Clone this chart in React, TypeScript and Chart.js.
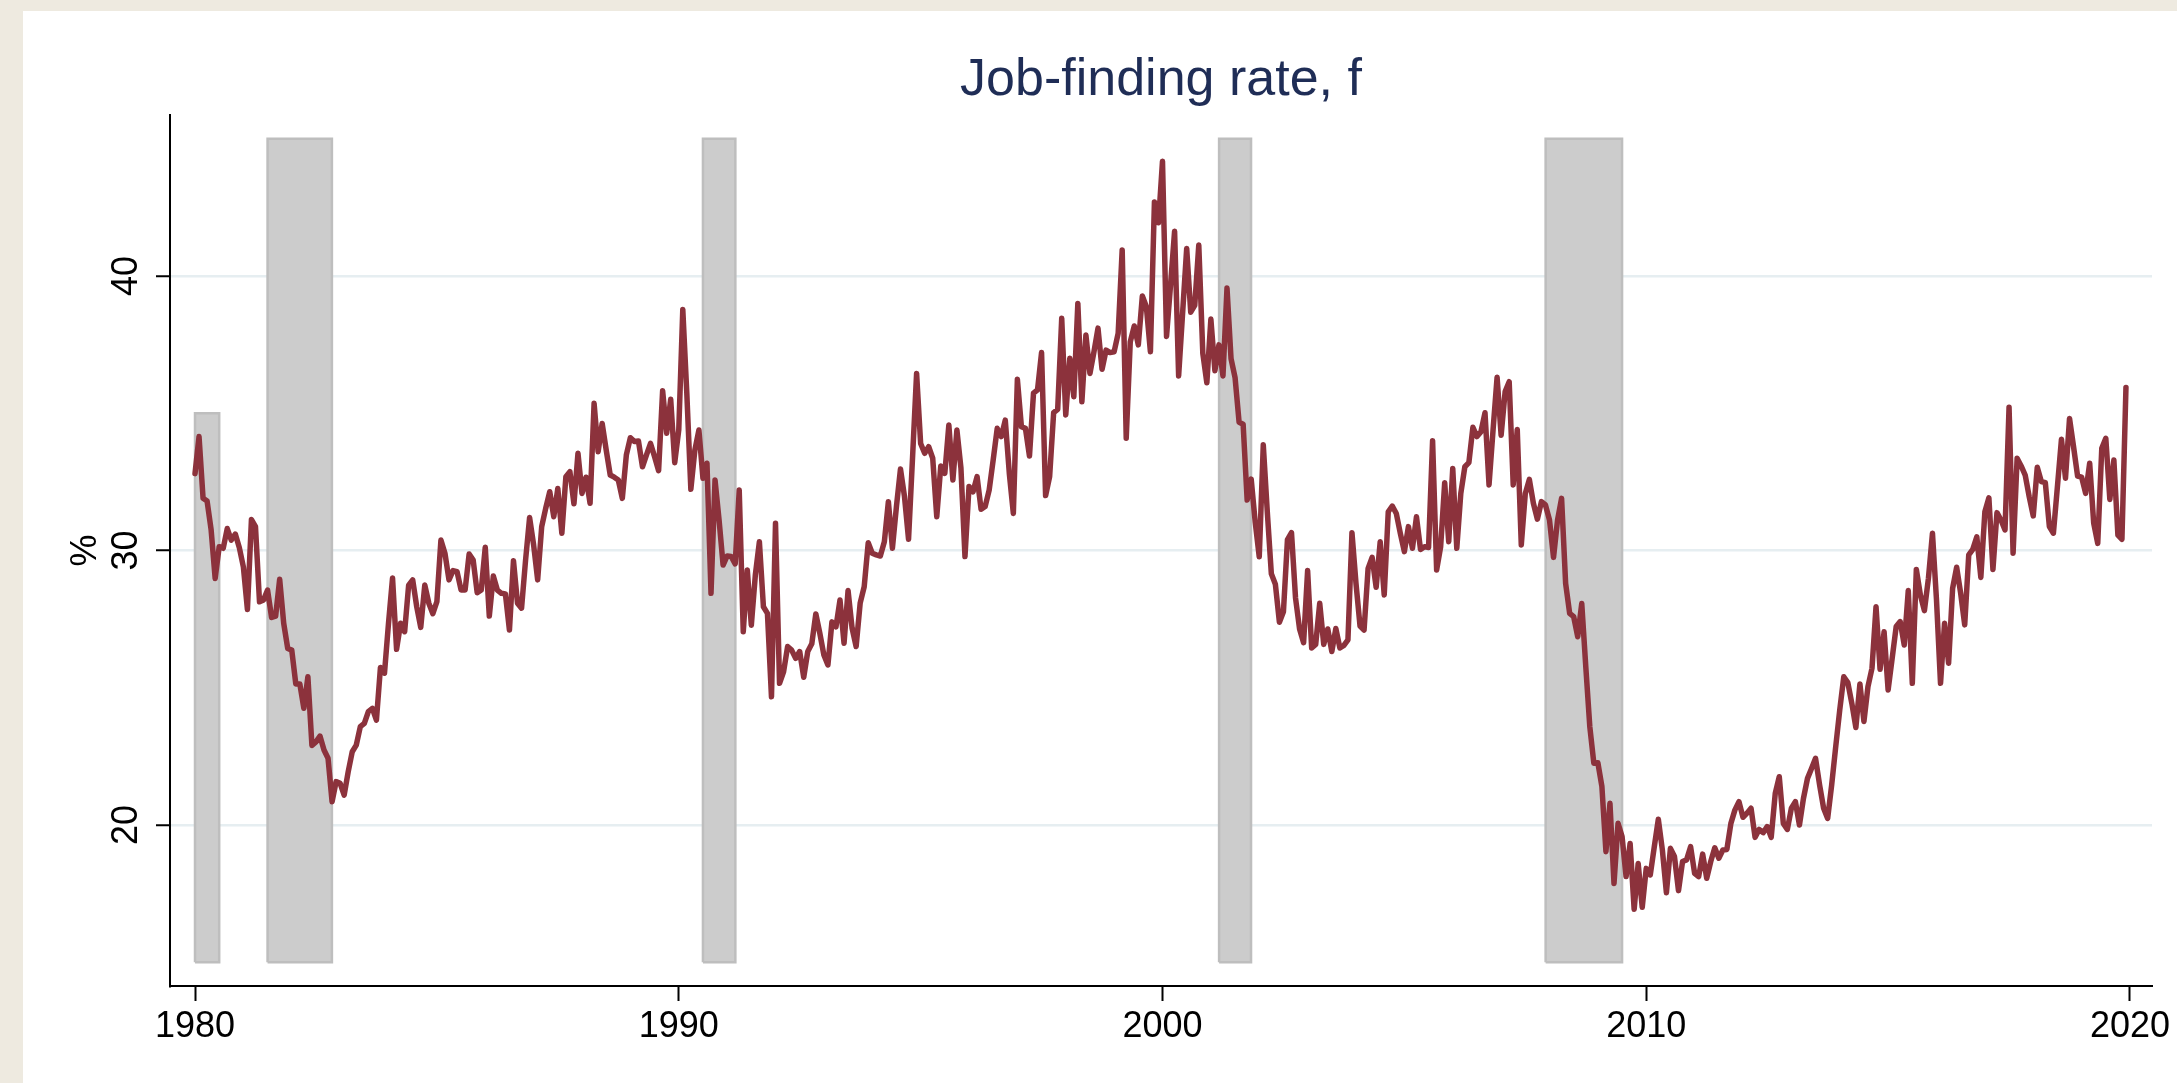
import React, { useEffect, useRef } from "react";
import { Chart, registerables } from "chart.js";

Chart.register(...registerables);

// Monthly job-finding rate (%), Jan of each decade start onward
const f1980s = [
  32.8, 34.15, 31.9, 31.8, 30.75, 28.98, 30.14, 30.08, 30.8, 30.38, 30.6, 30.1,
  29.4, 27.85, 31.13, 30.87, 28.13, 28.2, 28.56, 27.56, 27.61, 28.95, 27.35, 26.43,
  26.37, 25.14, 25.14, 24.25, 25.4, 22.9, 23.03, 23.24, 22.73, 22.43, 20.85, 21.58,
  21.52, 21.09, 21.94, 22.67, 22.91, 23.58, 23.7, 24.13, 24.25, 23.82, 25.74, 25.53,
  27.35, 29.0, 26.4, 27.35, 27.04, 28.74, 28.93, 27.95, 27.2, 28.74, 28.08, 27.7,
  28.14, 30.38, 29.9, 28.93, 29.27, 29.23, 28.56, 28.56, 29.87, 29.65, 28.46, 28.56,
  30.12, 27.61, 29.07, 28.56, 28.44, 28.42, 27.1, 29.63, 28.08, 27.9, 29.65, 31.2,
  30.2, 28.93, 30.87, 31.54, 32.14, 31.23, 32.26, 30.63, 32.69, 32.87, 31.7, 33.54,
  32.08, 32.67, 31.72, 35.36, 33.6, 34.63, 33.66, 32.75, 32.67, 32.57, 31.9, 33.48,
  34.11, 33.97, 33.99, 33.05, 33.48, 33.9, 33.42, 32.91, 35.82, 34.27, 35.51, 33.2,
];
const f1990s = [
  34.39, 38.78, 35.72, 32.23, 33.66, 34.39, 32.63, 33.18, 28.44, 32.57, 31.11, 29.47,
  29.8, 29.78, 29.51, 32.2, 27.04, 29.29, 27.28, 29.11, 30.32, 27.95, 27.71, 24.67,
  30.99, 25.16, 25.58, 26.5, 26.37, 26.07, 26.32, 25.38, 26.32, 26.6, 27.69, 26.98,
  26.19, 25.83, 27.4, 27.22, 28.2, 26.62, 28.54, 27.17, 26.5, 28.08, 28.68, 30.28,
  29.9, 29.84, 29.8, 30.32, 31.78, 30.08, 31.6, 32.97, 31.96, 30.41, 33.4, 36.45,
  33.9, 33.54, 33.78, 33.36, 31.23, 33.08, 32.81, 34.57, 32.57, 34.39, 33.0, 29.78,
  32.33, 32.14, 32.69, 31.5, 31.6, 32.2, 33.3, 34.45, 34.15, 34.75, 32.81, 31.35,
  36.24, 34.51, 34.45, 33.44, 35.73, 35.85, 37.21, 32.0, 32.69, 35.02, 35.14, 38.46,
  34.94, 37.0, 35.6, 39.0, 35.42, 37.85, 36.45, 37.24, 38.1, 36.6, 37.3, 37.21,
  37.24, 37.91, 40.95, 34.09, 37.6, 38.18, 37.49, 39.27, 38.88, 37.24, 42.7, 41.94,
];
const f2000s = [
  44.18, 37.8, 39.68, 41.63, 36.36, 38.68, 41.0, 38.68, 38.93, 41.13, 37.18, 36.11,
  38.43, 36.55, 37.49, 36.36, 39.56, 36.99, 36.3, 34.67, 34.6, 31.84, 32.6, 31.03,
  29.77, 33.85, 31.4, 29.15, 28.77, 27.39, 27.77, 30.4, 30.65, 28.27, 27.14, 26.64,
  29.27, 26.45, 26.58, 28.08, 26.58, 27.14, 26.32, 27.16, 26.45, 26.54, 26.74, 30.65,
  28.8, 27.25, 27.1, 29.35, 29.75, 28.66, 30.32, 28.38, 31.41, 31.62, 31.35, 30.62,
  29.96, 30.87, 30.08, 31.23, 30.04, 30.14, 30.11, 34.0, 29.29, 30.14, 32.47, 30.32,
  32.99, 30.08, 32.08, 33.05, 33.2, 34.49, 34.15, 34.33, 35.02, 32.39, 34.39, 36.31,
  34.2, 35.79, 36.15, 32.39, 34.41, 30.2, 32.08, 32.59, 31.72, 31.14, 31.78, 31.66,
  31.11, 29.75, 31.11, 31.9, 28.8, 27.71, 27.59, 26.86, 28.07, 25.77, 23.58, 22.25,
  22.27, 21.4, 19.03, 20.79, 17.87, 20.06, 19.58, 18.12, 19.33, 16.93, 18.6, 17.0,
];
const f2010s = [
  18.42, 18.18, 19.21, 20.21, 19.09, 17.53, 19.15, 18.85, 17.61, 18.67, 18.73, 19.21,
  18.24, 18.12, 18.94, 18.06, 18.67, 19.17, 18.79, 19.09, 19.11, 20.06, 20.55, 20.85,
  20.28, 20.43, 20.61, 19.55, 19.84, 19.72, 19.94, 19.55, 21.15, 21.76, 20.06, 19.84,
  20.61, 20.85, 20.0, 20.97, 21.7, 22.06, 22.43, 21.46, 20.61, 20.24, 21.46, 22.85,
  24.19, 25.4, 25.19, 24.43, 23.55, 25.14, 23.77, 25.04, 25.71, 27.95, 25.67, 27.04,
  24.92, 26.07, 27.23, 27.41, 26.56, 28.54, 25.16, 29.31, 28.38, 27.81, 28.99, 30.63,
  28.2, 25.16, 27.35, 25.89, 28.62, 29.39, 28.44, 27.29, 29.84, 30.04, 30.5, 29.02,
  31.41, 31.92, 29.31, 31.38, 31.11, 30.75, 35.22, 29.9, 33.36, 33.08, 32.75, 31.96,
  31.26, 33.03, 32.51, 32.47, 30.87, 30.63, 32.33, 34.05, 32.63, 34.81, 33.78, 32.71,
  32.67, 32.08, 33.18, 30.99, 30.26, 33.72, 34.09, 31.86, 33.3, 30.56, 30.41, 35.94,
];
const decadeStarts = [1980, 1990, 2000, 2010];

// NBER recessions (decimal years) and shading heights
const recessionStart = [1980.0, 1981.5, 1990.5, 2001.17, 2007.92];
const recessionEnd = [1980.5, 1982.83, 1991.17, 2001.83, 2009.5];
const recessionTop = [35, 45, 45, 45, 45];
const recessionBottom = 15;

const xTicks = [1980, 1990, 2000, 2010, 2020];
const yTicks = [20, 30, 40];
const titleText = "Job-finding rate, f";
const yTitleText = "%";

const W = 2177;
const H = 1083;
const FONT = "'Liberation Sans', Arial, Helvetica, sans-serif";

const backgroundPlugin = {
  id: "stataBackground",
  beforeDraw(chart: any) {
    const ctx = chart.ctx;
    ctx.save();
    ctx.fillStyle = "#EEEAE0";
    ctx.fillRect(0, 0, chart.width, chart.height);
    ctx.fillStyle = "#FFFFFF";
    ctx.fillRect(23, 11, chart.width - 23, chart.height - 11);
    ctx.restore();
  },
};

export default function App() {
  const canvasRef = useRef<HTMLCanvasElement | null>(null);

  useEffect(() => {
    const canvas = canvasRef.current;
    if (!canvas) return;

    const series = [f1980s, f1990s, f2000s, f2010s];
    const linePoints: { x: number; y: number }[] = [];
    series.forEach((arr, d) => {
      arr.forEach((v, i) => {
        linePoints.push({ x: decadeStarts[d] + i / 12, y: v });
      });
    });

    const recessionSets = recessionStart.map((s, i) => ({
      type: "line" as const,
      label: "recession" + i,
      data: [
        { x: s, y: recessionBottom },
        { x: s, y: recessionTop[i] },
        { x: recessionEnd[i], y: recessionTop[i] },
        { x: recessionEnd[i], y: recessionBottom },
        { x: s, y: recessionBottom },
      ],
      borderColor: "#BEBEBE",
      borderWidth: 2.5,
      backgroundColor: "#CCCCCC",
      fill: "shape" as any,
      pointRadius: 0,
      tension: 0,
      order: 2,
    }));

    const chart = new Chart(canvas, {
      type: "line",
      data: {
        datasets: [
          {
            label: "f",
            data: linePoints,
            borderColor: "#8C323C",
            borderWidth: 5.5,
            borderJoinStyle: "round",
            borderCapStyle: "round",
            pointRadius: 0,
            tension: 0,
            fill: false,
            order: 0,
          } as any,
          ...recessionSets,
        ],
      },
      options: {
        responsive: false,
        animation: false,
        devicePixelRatio: 1,
        layout: { padding: { left: 0, right: 25, top: 0, bottom: 0 } },
        plugins: {
          legend: { display: false },
          tooltip: { enabled: false },
          title: {
            display: true,
            text: titleText,
            color: "#1F2D56",
            font: { family: FONT, size: 52, weight: "normal", lineHeight: 1.2 },
            padding: { top: 49, bottom: 3.6 },
            fullSize: false,
          },
        },
        scales: {
          x: {
            type: "linear",
            min: 1979.483,
            max: 2020.455,
            afterBuildTicks: (s: any) => {
              s.ticks = xTicks.map((v) => ({ value: v }));
            },
            afterFit: (s: any) => {
              s.height = 97;
            },
            grid: {
              drawOnChartArea: false,
              drawTicks: true,
              tickLength: 15,
              tickColor: "#000",
              tickWidth: 2,
            },
            border: { display: true, color: "#000", width: 2 },
            ticks: {
              color: "#000",
              font: { family: FONT, size: 36 },
              padding: 4,
              minRotation: 0,
              maxRotation: 0,
              autoSkip: false,
              callback: (v: any) => String(v),
            },
          },
          y: {
            type: "linear",
            min: 14.135,
            max: 45.865,
            afterBuildTicks: (s: any) => {
              s.ticks = yTicks.map((v) => ({ value: v }));
            },
            afterFit: (s: any) => {
              s.width = 170;
            },
            grid: {
              drawOnChartArea: true,
              color: "#E6EEF1",
              lineWidth: 2.5,
              drawTicks: true,
              tickLength: 14,
              tickColor: "#000",
              tickWidth: 2,
            },
            border: { display: true, color: "#000", width: 2 },
            ticks: {
              color: "#000",
              font: { family: FONT, size: 36 },
              padding: 9,
              minRotation: 90,
              maxRotation: 90,
              crossAlign: "center",
              autoSkip: false,
              callback: (v: any) => String(v),
            },
            title: {
              display: true,
              text: yTitleText,
              color: "#000",
              font: { family: FONT, size: 36, lineHeight: 1.2 },
              padding: { top: 64.4, bottom: 0 },
            },
          },
        },
      },
      plugins: [backgroundPlugin],
    });

    return () => chart.destroy();
  }, []);

  return (
    <div style={{ position: "fixed", left: 0, top: 0, width: W, height: H }}>
      <canvas ref={canvasRef} width={W} height={H} style={{ width: W, height: H, display: "block" }} />
    </div>
  );
}
